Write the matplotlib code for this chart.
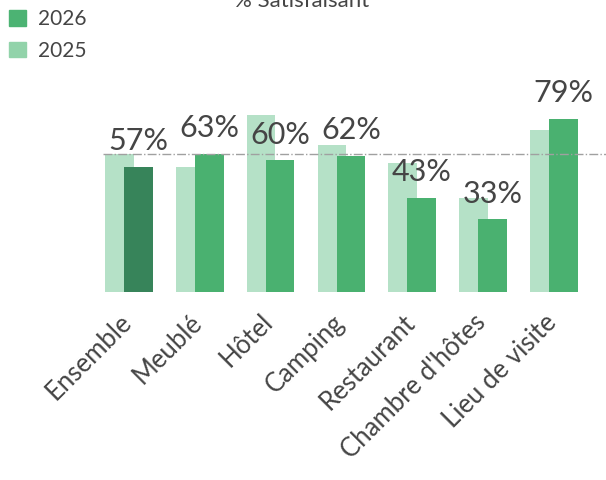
import numpy as np
import matplotlib.pyplot as plt
from matplotlib.patches import Patch
from matplotlib.transforms import ScaledTranslation

# data
categories = ['Ensemble', 'Meublé', 'Hôtel', 'Camping', 'Restaurant',
              "Chambre d'hôtes", 'Lieu de visite']
values_2025 = [63, 57, 81, 67, 59, 43, 74]
values_2026 = [57, 63, 60, 62, 43, 33, 79]
reference = 63  # dashed line = Ensemble 2025

col_2025 = '#b5e1c7'
col_2026 = '#4ab170'
col_ens = '#37845a'
col_2025_leg = '#92d3aa'
col_2026_leg = '#4cb373'
text_col = '#454545'

plt.rcParams['font.family'] = ['Lato', 'DejaVu Sans']

fig = plt.figure(figsize=(6.06, 4.8), dpi=100)
ax = fig.add_axes([0.1695, 0.3927, 0.8305, 0.6073])

x = np.arange(len(categories))
width = 0.404
shift = 0.134

ax.bar(x - shift, values_2025, width, color=col_2025, zorder=1)
colors_2026 = [col_ens] + [col_2026] * (len(categories) - 1)
bars = ax.bar(x + shift, values_2026, width, color=colors_2026, zorder=2)

ax.axhline(reference, color='#a0a0a0', lw=1, ls='-.', zorder=3)

for b, v in zip(bars, values_2026):
    ax.annotate(f'{v}%', (b.get_x() + b.get_width() / 2, v),
                xytext=(0, 12), textcoords='offset points',
                ha='center', va='baseline', fontsize=22, color=text_col)

ax.set_xlim(-0.37, 6.736)
ax.set_ylim(0, 133.5)
ax.set_yticks([])
ax.set_xticks(x)
ax.set_xticklabels(categories, rotation=45, ha='right',
                   rotation_mode='anchor', fontsize=18.5, color=text_col)
ax.tick_params(axis='x', length=0, pad=13)
off = ScaledTranslation(-10 / 100, 0, fig.dpi_scale_trans)
for lab in ax.get_xticklabels():
    lab.set_transform(lab.get_transform() + off)
for s in ax.spines.values():
    s.set_visible(False)

# title mostly clipped at the top
fig.text(0.498, 1 - 7 / 480, '% Satisfaisant', ha='center', va='baseline',
         fontsize=16, color=text_col)

handles = [Patch(color=col_2026_leg, label='2026'),
           Patch(color=col_2025_leg, label='2025')]
leg = fig.legend(handles=handles, loc='upper left',
                 bbox_to_anchor=(2 / 606, 1 - 2 / 480),
                 frameon=False, fontsize=15, handlelength=0.8,
                 handleheight=0.8, handletextpad=0.6, labelspacing=0.55,
                 borderaxespad=0.0, borderpad=0.35)
for t in leg.get_texts():
    t.set_color(text_col)

fig.savefig('out.png', dpi=100)
